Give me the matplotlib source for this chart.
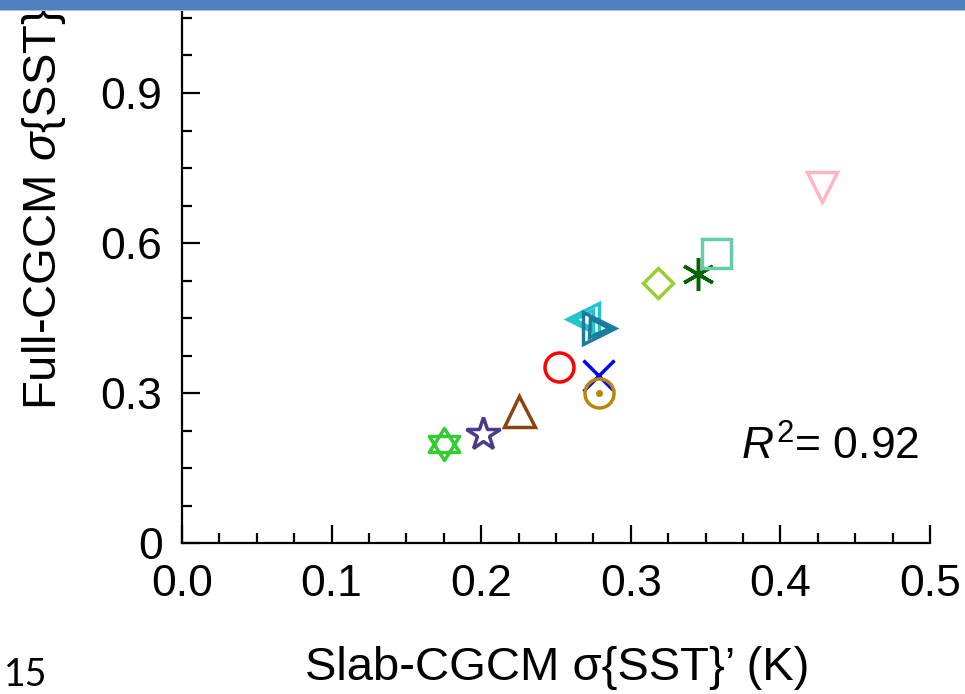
import matplotlib
matplotlib.use('Agg')
import matplotlib.pyplot as plt
from matplotlib.path import Path
from matplotlib.patches import Rectangle
from matplotlib.ticker import FixedLocator, MultipleLocator

plt.rcParams['font.family'] = ['Liberation Sans', 'DejaVu Sans']
plt.rcParams['mathtext.fontset'] = 'custom'
plt.rcParams['mathtext.rm'] = 'Liberation Sans'
plt.rcParams['mathtext.it'] = 'Liberation Sans:italic'

# ---- data ----
slab_sst = [0.175, 0.2015, 0.225, 0.252, 0.278, 0.279, 0.268, 0.279, 0.318, 0.345, 0.357, 0.428]
full_sst = [0.198, 0.218, 0.265, 0.352, 0.336, 0.301, 0.448, 0.431, 0.520, 0.538, 0.581, 0.712]
marker_names = ['hexagram', 'star', 'tri_up', 'circle', 'x', 'circle_dot',
                'tri_left', 'tri_right', 'diamond', 'asterisk', 'square', 'tri_down']
colors = ['#33CC33', '#483D8B', '#8B4513', '#FF0000', '#0000FF', '#B8860B',
          '#22C4CC', '#1C7C9C', '#9ACD32', '#006400', '#66CDAA', '#FFB6C1']

xticks = [0.0, 0.1, 0.2, 0.3, 0.4, 0.5]
xticklabels = ['0.0', '0.1', '0.2', '0.3', '0.4', '0.5']
yticks = [0.0, 0.3, 0.6, 0.9]
yticklabels = ['0', '0.3', '0.6', '0.9']
r2_text = '$R^2$= 0.92'

# ---- custom hexagram marker ----
hex_verts = [(0, 1), (-0.95, -0.5), (0.95, -0.5), (0, 1),
             (0, -1), (-0.95, 0.5), (0.95, 0.5), (0, -1)]
hex_codes = [Path.MOVETO, Path.LINETO, Path.LINETO, Path.CLOSEPOLY] * 2
hexagram = Path(hex_verts, hex_codes)

PX = 0.72  # points per pixel at dpi 100
mk = {
    'hexagram': (hexagram, 32),
    'star': ('*', 35),
    'tri_up': ('^', 31),
    'circle': ('o', 29),
    'x': ('x', 31),
    'circle_dot': ('o', 29),
    'tri_left': ('<', 32),
    'tri_right': ('>', 32),
    'diamond': ('D', 21),
    'asterisk': ((6, 2, 0), 33),
    'square': ('s', 29),
    'tri_down': ('v', 30),
}

W, H = 965, 694
fig = plt.figure(figsize=(W / 100, H / 100), dpi=100)
ax = fig.add_axes([182 / W, 151 / H, 748 / W, 543 / H])
ax.set_xlim(0, 0.5)
ax.set_ylim(0, 543 / 500)

lw = 2.5
for xv, yv, name, c in zip(slab_sst, full_sst, marker_names, colors):
    m, s = mk[name]
    ax.plot([xv], [yv], linestyle='none', marker=m, markersize=s * PX,
            markerfacecolor='none', markeredgecolor=c, markeredgewidth=lw,
            zorder=3)
    if name == 'circle_dot':
        ax.plot([xv], [yv], linestyle='none', marker='o', markersize=7 * PX,
                markerfacecolor=c, markeredgecolor=c, markeredgewidth=0, zorder=4)
    if name in ('tri_left', 'tri_right'):
        ax.plot([xv], [yv], linestyle='none', marker=m, markersize=19 * PX,
                markerfacecolor='none', markeredgecolor=c, markeredgewidth=lw,
                zorder=3)

for side in ('top', 'right'):
    ax.spines[side].set_visible(False)
for side in ('left', 'bottom'):
    ax.spines[side].set_linewidth(1.6)

ax.xaxis.set_major_locator(FixedLocator(xticks))
ax.set_xticklabels(xticklabels)
ax.xaxis.set_minor_locator(MultipleLocator(0.025))
ax.yaxis.set_major_locator(FixedLocator(yticks))
ax.set_yticklabels(yticklabels)
ax.yaxis.set_minor_locator(MultipleLocator(0.075))

ax.tick_params(which='major', direction='in', length=13, width=1.6, labelsize=32)
ax.tick_params(which='minor', direction='in', length=7, width=1.6)
ax.tick_params(axis='y', which='major', pad=14)
ax.tick_params(axis='x', which='major', pad=15)

ax.text(0.493, 0.167, r2_text, fontsize=32, ha='right', va='baseline')

fig.text(557 / W, 1 - 668 / H, 'Slab-CGCM σ{SST}’ (K)', fontsize=34,
         ha='center', va='center')
fig.text(44 / W, 1 - 410 / H, "Full-CGCM $\\sigma${SST}", fontsize=34,
         rotation=90, rotation_mode='anchor', ha='left', va='center')

fig.text(4 / W, 1 / H, '15', fontsize=27, family=['Lato', 'DejaVu Sans'],
         ha='left', va='bottom')

fig.add_artist(Rectangle((0, 1 - 10 / H), 1, 10 / H, transform=fig.transFigure,
                         facecolor='#4F81BD', edgecolor='none', zorder=10))
fig.add_artist(Rectangle((0, 1 - 11 / H), 1, 1 / H, transform=fig.transFigure,
                         facecolor='#A9C1E0', edgecolor='none', zorder=10))

fig.savefig('out.png', dpi=100)
